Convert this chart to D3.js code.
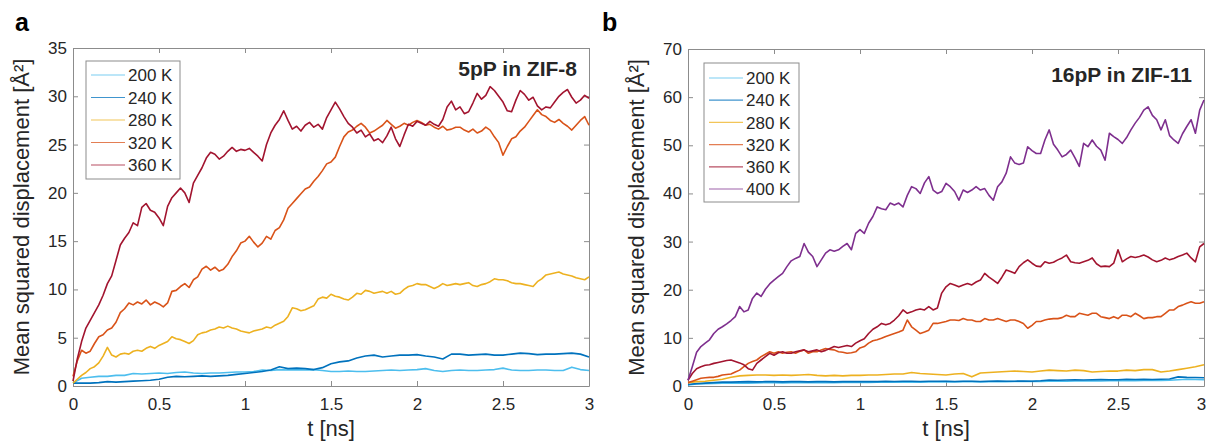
<!DOCTYPE html>
<head>
  <meta charset="UTF-8">
  <title>msd</title>
  <style>
  body, html, div, svg{
    padding: 0;
    margin: 0;
  }
  body{
    background: #fff;
  }
  text{
    font-family: "Liberation Sans", Arial, sans-serif;
    fill: #262626;
  }
  .axis path, .axis line{
    stroke: #8c8c8c;
    stroke-width: 1;
  }
  .axis text{
    font-size: 17px;
    fill: #262626;
  }
  </style>
</head>
<body>
  <script src="https://cdn.jsdelivr.net/npm/d3@7"></script>
  <script type="text/javascript">
  var width = 1206;
  var height = 443;

  //坐标刻度
  var tMax = 3;
  var xTicks = [0, 0.5, 1, 1.5, 2, 2.5, 3];
  var yTicksA = [0, 5, 10, 15, 20, 25, 30, 35];
  var yTicksB = [0, 10, 20, 30, 40, 50, 60, 70];
  var tempsA = ['200 K', '240 K', '280 K', '320 K', '360 K'];
  var tempsB = ['200 K', '240 K', '280 K', '320 K', '360 K', '400 K'];
  var colors = ['#4DBEEE', '#0072BD', '#EDB120', '#D95319', '#A2142F', '#7E2F8E'];

  //5pP in ZIF-8, 0 -> 3 ns
  var zif8_200 = [
    0.3, 0.8, 0.9, 1.0, 1.0, 1.1, 1.1, 1.3, 1.25, 1.3,
    1.35, 1.3, 1.4, 1.45, 1.35, 1.3, 1.35, 1.35, 1.4, 1.45,
    1.45, 1.5, 1.65, 1.6, 1.7, 1.65, 1.7, 1.65, 1.7, 1.6,
    1.5, 1.5, 1.55, 1.5, 1.5, 1.55, 1.6, 1.65, 1.6, 1.65,
    1.7, 1.8, 1.6, 1.5, 1.6, 1.65, 1.6, 1.6, 1.65, 1.7,
    1.85, 1.65, 1.6, 1.6, 1.65, 1.65, 1.6, 1.6, 1.95, 1.7,
    1.6
  ];
  var zif8_240 = [
    0.3, 0.3, 0.3, 0.35, 0.45, 0.4, 0.45, 0.5, 0.55, 0.6,
    0.7, 0.9, 1.0, 0.95, 1.0, 1.05, 1.0, 1.05, 1.1, 1.2,
    1.3, 1.4, 1.5, 1.65, 2.0, 1.8, 1.85, 1.8, 1.7, 1.9,
    2.3, 2.5, 2.6, 2.9, 3.1, 3.2, 3.0, 3.1, 3.2, 3.2,
    3.25, 3.1, 3.0, 2.8, 3.3, 3.3, 3.2, 3.25, 3.3, 3.2,
    3.2, 3.3, 3.4, 3.35, 3.25, 3.3, 3.3, 3.35, 3.4, 3.3,
    3.0
  ];
  var zif8_280 = [
    0.3, 0.7, 1.1, 1.4, 1.8, 2.0, 2.4, 3.1, 4.0, 3.2,
    3.0, 3.3, 3.4, 3.3, 3.6, 3.7, 3.6, 3.9, 4.1, 3.9,
    4.2, 4.4, 4.6, 5.1, 4.9, 4.8, 4.6, 4.4, 4.7, 5.3,
    5.5, 5.6, 5.8, 5.9, 6.1, 6.0, 6.2, 6.0, 5.9, 5.7,
    5.6, 5.5, 5.7, 5.8, 5.9, 6.1, 6.0, 6.3, 6.5, 6.7,
    7.2, 8.1, 8.0, 7.8, 7.9, 8.1, 8.3, 9.0, 9.2, 9.1,
    9.5, 9.3, 9.2, 9.0, 8.9, 9.2, 9.6, 9.5, 9.9, 9.8,
    9.6, 9.7, 9.8, 9.6, 9.8, 9.5, 9.6, 10.0, 10.3, 10.4,
    10.6, 10.5, 10.5, 10.3, 10.1, 10.3, 10.6, 10.4, 10.5, 10.6,
    10.5, 10.6, 10.7, 10.4, 10.3, 10.5, 10.6, 10.8, 11.1, 11.0,
    11.0, 10.9, 10.7, 10.6, 10.6, 10.5, 10.4, 10.3, 10.8, 11.1,
    11.5, 11.6, 11.7, 11.8, 11.6, 11.5, 11.4, 11.2, 11.1, 11.0,
    11.3
  ];
  var zif8_320 = [
    1.0, 2.6, 3.7, 3.4, 3.6, 4.4, 5.1, 5.3, 5.8, 6.0,
    6.6, 7.6, 8.0, 8.6, 8.4, 8.7, 8.5, 8.9, 8.4, 8.7,
    8.5, 8.2, 8.6, 9.8, 9.9, 10.3, 10.6, 10.2, 11.0, 11.3,
    12.1, 12.4, 12.0, 12.3, 11.9, 12.1, 12.6, 13.4, 14.0, 14.8,
    15.0, 15.5, 14.9, 14.4, 14.8, 15.5, 15.2, 16.1, 16.4, 17.2,
    18.4, 18.9, 19.4, 19.9, 20.4, 20.6, 21.2, 21.7, 22.3, 23.0,
    23.2, 23.7, 24.8, 25.8, 26.3, 26.5, 26.9, 27.2, 26.8, 26.2,
    26.4, 26.7, 27.0, 27.5, 27.1, 26.7, 26.9, 27.2, 27.0, 27.3,
    27.5, 27.3, 27.0, 27.1, 26.8, 26.6, 26.9, 26.5, 26.6, 26.8,
    26.8, 26.5, 26.3, 26.6, 26.2, 26.4, 26.8, 26.5, 25.8, 25.2,
    23.9, 24.8, 25.6, 25.8, 26.4, 26.8, 27.4, 28.0, 28.6, 28.1,
    27.9, 27.5, 27.3, 27.6, 27.2, 26.9, 26.5, 27.0, 27.5, 27.9,
    27.0
  ];
  var zif8_360 = [
    0.5, 2.8, 4.6, 6.0, 6.8, 7.6, 8.4, 9.4, 10.6, 11.4,
    13.0, 14.6, 15.3, 15.9, 16.9, 16.6, 18.5, 18.9, 18.2, 18.0,
    17.4, 16.6, 18.6, 19.5, 20.0, 20.5, 20.0, 19.0, 21.0, 21.8,
    22.6, 23.6, 24.2, 24.0, 23.5, 23.8, 24.3, 24.7, 24.3, 24.5,
    24.4, 24.6, 24.2, 23.8, 23.3, 25.0, 26.2, 27.0, 27.6, 28.5,
    27.5, 26.6, 26.9, 26.4, 27.0, 27.3, 26.8, 27.1, 26.6, 27.8,
    28.6, 29.4, 28.7, 27.9, 27.2, 26.8, 26.2, 26.5, 25.8, 26.1,
    25.4, 25.6, 25.2, 25.9, 26.8, 25.6, 24.8, 26.0, 27.1, 26.9,
    27.4, 27.2, 27.0, 27.4, 27.1, 26.9, 27.6, 28.9, 29.5, 28.6,
    28.9, 28.2, 28.4, 29.3, 30.3, 29.7, 30.1, 31.0, 30.6, 30.0,
    29.4, 28.5, 28.4, 29.6, 30.6, 30.2, 29.6, 29.9, 29.0, 28.6,
    28.9, 28.8, 29.4, 30.0, 30.4, 30.7, 29.9, 29.3, 29.6, 30.1,
    29.8
  ];

  //16pP in ZIF-11, 0 -> 3 ns
  var zif11_200 = [
    0.2, 0.4, 0.5, 0.55, 0.6, 0.6, 0.65, 0.6, 0.65, 0.7,
    0.7, 0.65, 0.7, 0.7, 0.75, 0.7, 0.75, 0.7, 0.75, 0.75,
    0.8, 0.75, 0.8, 0.8, 0.85, 0.8, 0.85, 0.8, 0.85, 0.85,
    0.9, 0.85, 0.9, 0.9, 0.85, 0.9, 0.95, 0.9, 0.95, 0.95,
    1.0, 0.95, 1.0, 1.05, 1.0, 1.05, 1.05, 1.1, 1.05, 1.1,
    1.1, 1.15, 1.1, 1.15, 1.2, 1.15, 1.2, 1.3, 1.4, 1.35,
    1.3
  ];
  var zif11_240 = [
    0.3, 0.5, 0.6, 0.7, 0.8, 0.8, 0.85, 0.9, 0.85, 0.9,
    0.9, 0.85, 0.9, 0.9, 0.85, 0.9, 0.9, 0.85, 0.9, 0.95,
    0.9, 0.95, 0.9, 1.0, 0.95, 1.0, 1.0, 0.95, 1.0, 1.0,
    1.0, 0.95, 1.0, 1.0, 0.95, 1.0, 1.05, 1.0, 1.0, 1.05,
    1.0, 1.1, 1.25, 1.2, 1.25, 1.3, 1.25, 1.3, 1.35, 1.3,
    1.3, 1.4, 1.35, 1.4, 1.35, 1.4, 1.45, 1.9, 1.8, 1.75,
    1.7
  ];
  var zif11_280 = [
    0.7, 0.9, 1.0, 1.2, 1.4, 1.8, 2.1, 2.2, 2.3, 2.3,
    2.2, 2.3, 2.2, 2.3, 2.4, 2.2, 2.1, 2.2, 2.1, 2.2,
    2.2, 2.3, 2.3, 2.4, 2.5, 2.5, 2.8, 2.6, 2.5, 2.4,
    2.3, 2.5, 2.6, 1.9, 2.7, 2.8, 2.9, 3.0, 3.1, 3.0,
    2.9, 3.1, 3.3, 3.2, 3.1, 3.3, 3.2, 2.9, 3.0, 3.1,
    3.1, 3.3, 3.2, 3.4, 3.4, 2.9, 3.1, 3.4, 3.7, 4.0,
    4.4
  ];
  var zif11_320 = [
    0.7, 1.0, 1.3, 1.6, 1.7, 1.8, 1.8, 2.0, 2.3, 2.4,
    2.5, 2.9, 3.3, 4.0, 4.7, 5.1, 5.4, 6.1, 6.6, 7.1,
    6.8, 7.1, 6.8, 7.0, 7.1, 6.8, 7.2, 7.5, 6.8, 7.1,
    7.1, 7.5, 7.8, 7.6, 7.5, 7.1, 7.0, 6.8, 6.9, 7.1,
    7.9, 8.2, 8.9, 9.4, 9.6, 9.9, 10.3, 10.6, 10.9, 11.2,
    11.6, 13.7, 12.3, 11.6, 10.9, 11.2, 11.6, 13.0, 13.0, 13.2,
    13.4, 13.7, 13.7, 13.6, 14.0, 13.7, 13.7, 13.4, 13.4, 14.0,
    13.7, 13.7, 14.0, 13.7, 13.4, 13.7, 13.7, 13.4, 13.0, 12.0,
    12.6, 13.4, 13.4, 13.7, 13.9, 14.0, 14.0, 14.2, 14.7, 14.4,
    14.4, 15.1, 14.9, 14.7, 15.1, 15.1, 14.4, 14.2, 14.0, 14.4,
    14.0, 14.7, 14.7, 14.4, 15.1, 14.6, 14.0, 14.2, 14.2, 14.4,
    14.4, 15.1, 15.8, 15.8, 16.5, 16.8, 17.2, 17.5, 17.2, 17.2,
    17.5
  ];
  var zif11_360 = [
    1.2, 2.6, 3.6, 4.0, 4.3, 4.4, 4.7, 4.9, 5.1, 5.3,
    5.4, 5.1, 4.8, 4.4, 3.6, 3.3, 4.7, 5.4, 6.1, 6.8,
    6.4, 6.9, 7.1, 6.8, 6.8, 7.1, 7.3, 7.5, 7.1, 7.3,
    7.5, 7.1, 7.4, 7.8, 8.2, 8.0, 8.2, 8.4, 8.2, 8.9,
    9.4, 9.8, 10.9, 11.8, 12.3, 13.0, 12.7, 13.0, 13.7, 14.6,
    15.8, 15.1, 15.4, 15.8, 16.0, 15.8, 16.5, 15.8, 16.2, 19.3,
    20.6, 21.3, 21.0, 20.6, 21.0, 21.3, 21.0, 21.6, 22.0, 23.4,
    22.6, 22.0, 21.3, 22.6, 24.1, 23.8, 23.4, 24.8, 25.6, 26.2,
    25.5, 24.9, 24.8, 25.8, 25.5, 25.7, 26.2, 26.6, 27.2, 25.8,
    25.6, 25.5, 25.8, 26.1, 26.6, 25.4, 24.8, 24.9, 24.8, 25.5,
    28.3, 25.8, 26.4, 26.9, 26.7, 26.9, 27.2, 26.8, 26.2, 25.8,
    26.1, 26.6, 26.2, 26.5, 26.9, 27.2, 27.6, 26.6, 25.8, 28.9,
    29.6
  ];
  var zif11_400 = [
    1.2, 4.0, 7.0, 8.2, 8.9, 9.6, 10.9, 11.8, 12.3, 12.9,
    13.6, 14.4, 16.5, 15.4, 15.8, 18.2, 19.3, 18.6, 20.1, 21.2,
    22.0, 22.7, 23.4, 24.8, 26.0, 26.5, 26.9, 29.6, 27.8, 26.9,
    24.8, 26.2, 27.6, 28.3, 28.0, 28.3, 29.0, 29.6, 28.3, 31.7,
    32.5, 31.7, 33.8, 35.2, 37.2, 36.8, 36.6, 38.0, 37.6, 38.0,
    37.2, 39.6, 41.4, 41.0, 40.0, 42.2, 43.5, 40.7, 40.0, 40.4,
    42.1, 41.4, 40.4, 38.6, 40.7, 40.2, 40.7, 41.4, 40.7, 41.0,
    39.6, 38.6, 41.4, 42.4, 44.2, 47.6, 46.3, 46.0, 46.3, 49.7,
    48.9, 48.3, 48.3, 51.1, 53.2, 50.2, 49.0, 47.6, 48.1, 49.0,
    47.4, 45.6, 50.4, 49.7, 51.1, 49.8, 49.0, 46.9, 52.5, 51.8,
    51.2, 50.4, 51.6, 53.2, 54.6, 55.8, 57.3, 58.0, 56.2, 55.3,
    53.2, 55.3, 52.0, 51.1, 50.4, 52.4, 53.9, 55.3, 52.5, 57.3,
    59.4
  ];

  //画布
  var svg = d3.select('body')
    .append('svg')
    .attr('width', width)
    .attr('height', height)
    .style('display', 'block');

  svg.append('rect')
    .attr('width', width)
    .attr('height', height)
    .attr('fill', '#fff');

  function toPoints(vals){
    var n = vals.length;
    return vals.map(function(v, i){ return [i * tMax / (n - 1), v]; });
  }

  function drawPanel(p){
    var g = svg.append('g');
    var x = d3.scaleLinear().domain([0, tMax]).range([p.left, p.right]);
    var y = d3.scaleLinear().domain([0, p.yMax]).range([p.bottom, p.top]);
    var tick = 5;

    //坐标轴 (box on, ticks inward)
    var xAxis = g.append('g').attr('class', 'axis')
      .attr('transform', 'translate(0,' + p.bottom + ')')
      .call(d3.axisBottom(x).tickValues(xTicks).tickSizeInner(-tick).tickSizeOuter(0)
        .tickPadding(12).tickFormat(d3.format('')));
    if(p.lastTickShift){
      xAxis.selectAll('.tick:last-of-type text').attr('dx', p.lastTickShift);
    }
    g.append('g').attr('class', 'axis')
      .attr('transform', 'translate(0,' + p.top + ')')
      .call(d3.axisTop(x).tickValues(xTicks).tickSizeInner(-tick).tickSizeOuter(0).tickFormat(''));
    g.append('g').attr('class', 'axis')
      .attr('transform', 'translate(' + p.left + ',0)')
      .call(d3.axisLeft(y).tickValues(p.yTicks).tickSizeInner(-tick).tickSizeOuter(0)
        .tickPadding(6).tickFormat(d3.format('')));
    g.append('g').attr('class', 'axis')
      .attr('transform', 'translate(' + p.right + ',0)')
      .call(d3.axisRight(y).tickValues(p.yTicks).tickSizeInner(-tick).tickSizeOuter(0).tickFormat(''));

    //曲线
    var line = d3.line()
      .x(function(d){ return x(d[0]); })
      .y(function(d){ return y(d[1]); });
    g.append('g')
      .selectAll('path')
      .data(p.series)
      .enter()
      .append('path')
      .attr('d', function(d){ return line(toPoints(d)); })
      .attr('fill', 'none')
      .attr('stroke', function(d, i){ return colors[i]; })
      .attr('stroke-width', 1.6)
      .attr('stroke-linejoin', 'round');

    //图例
    var lg = g.append('g');
    lg.append('rect')
      .attr('x', p.left + p.lgDx)
      .attr('y', p.top + p.lgDy)
      .attr('width', p.lgW)
      .attr('height', p.lgH)
      .attr('fill', '#fff')
      .attr('stroke', '#8c8c8c');
    p.temps.forEach(function(name, i){
      var cy = p.top + p.lgDy + p.lgRow0 + i * p.lgStep;
      var x0 = p.left + p.lgDx;
      lg.append('line')
        .attr('x1', x0 + 5).attr('x2', x0 + 39)
        .attr('y1', cy).attr('y2', cy)
        .attr('stroke', colors[i])
        .attr('stroke-opacity', 0.75)
        .attr('stroke-width', 1.2);
      lg.append('text')
        .attr('x', x0 + 42)
        .attr('y', cy)
        .attr('dy', '0.36em')
        .style('font-size', '17px')
        .text(name);
    });

    //标题
    g.append('text')
      .attr('x', p.right - 12)
      .attr('y', p.top + p.titleDy)
      .attr('text-anchor', 'end')
      .style('font-size', '21px')
      .style('font-weight', 'bold')
      .text(p.title);

    g.append('text')
      .attr('x', (p.left + p.right) / 2)
      .attr('y', 436)
      .attr('text-anchor', 'middle')
      .style('font-size', '22px')
      .text('t [ns]');

    g.append('text')
      .attr('transform', 'translate(' + p.yLabelX + ',' + ((p.top + p.bottom) / 2) + ') rotate(-90)')
      .attr('text-anchor', 'middle')
      .style('font-size', '22px')
      .text('Mean squared displacement [Å²]');

    g.append('text')
      .attr('x', p.letterX)
      .attr('y', 31)
      .style('font-size', '25px')
      .style('font-weight', 'bold')
      .style('fill', '#000')
      .text(p.letter);
  }

  drawPanel({
    left: 73, right: 589, top: 48, bottom: 386,
    yMax: 35, yTicks: yTicksA,
    series: [zif8_200, zif8_240, zif8_280, zif8_320, zif8_360],
    temps: tempsA,
    lgDx: 13, lgDy: 13, lgW: 94, lgH: 118, lgRow0: 14, lgStep: 22.5,
    title: '5pP in ZIF-8', titleDy: 28,
    yLabelX: 29, letter: 'a', letterX: 15
  });

  drawPanel({
    left: 688, right: 1204, top: 49, bottom: 386,
    yMax: 70, yTicks: yTicksB,
    series: [zif11_200, zif11_240, zif11_280, zif11_320, zif11_360, zif11_400],
    temps: tempsB,
    lgDx: 16, lgDy: 14, lgW: 95, lgH: 139, lgRow0: 15, lgStep: 22.2,
    title: '16pP in ZIF-11', titleDy: 33,
    yLabelX: 644, letter: 'b', letterX: 602,
    lastTickShift: -3
  });
  </script>
</body>
</html>
